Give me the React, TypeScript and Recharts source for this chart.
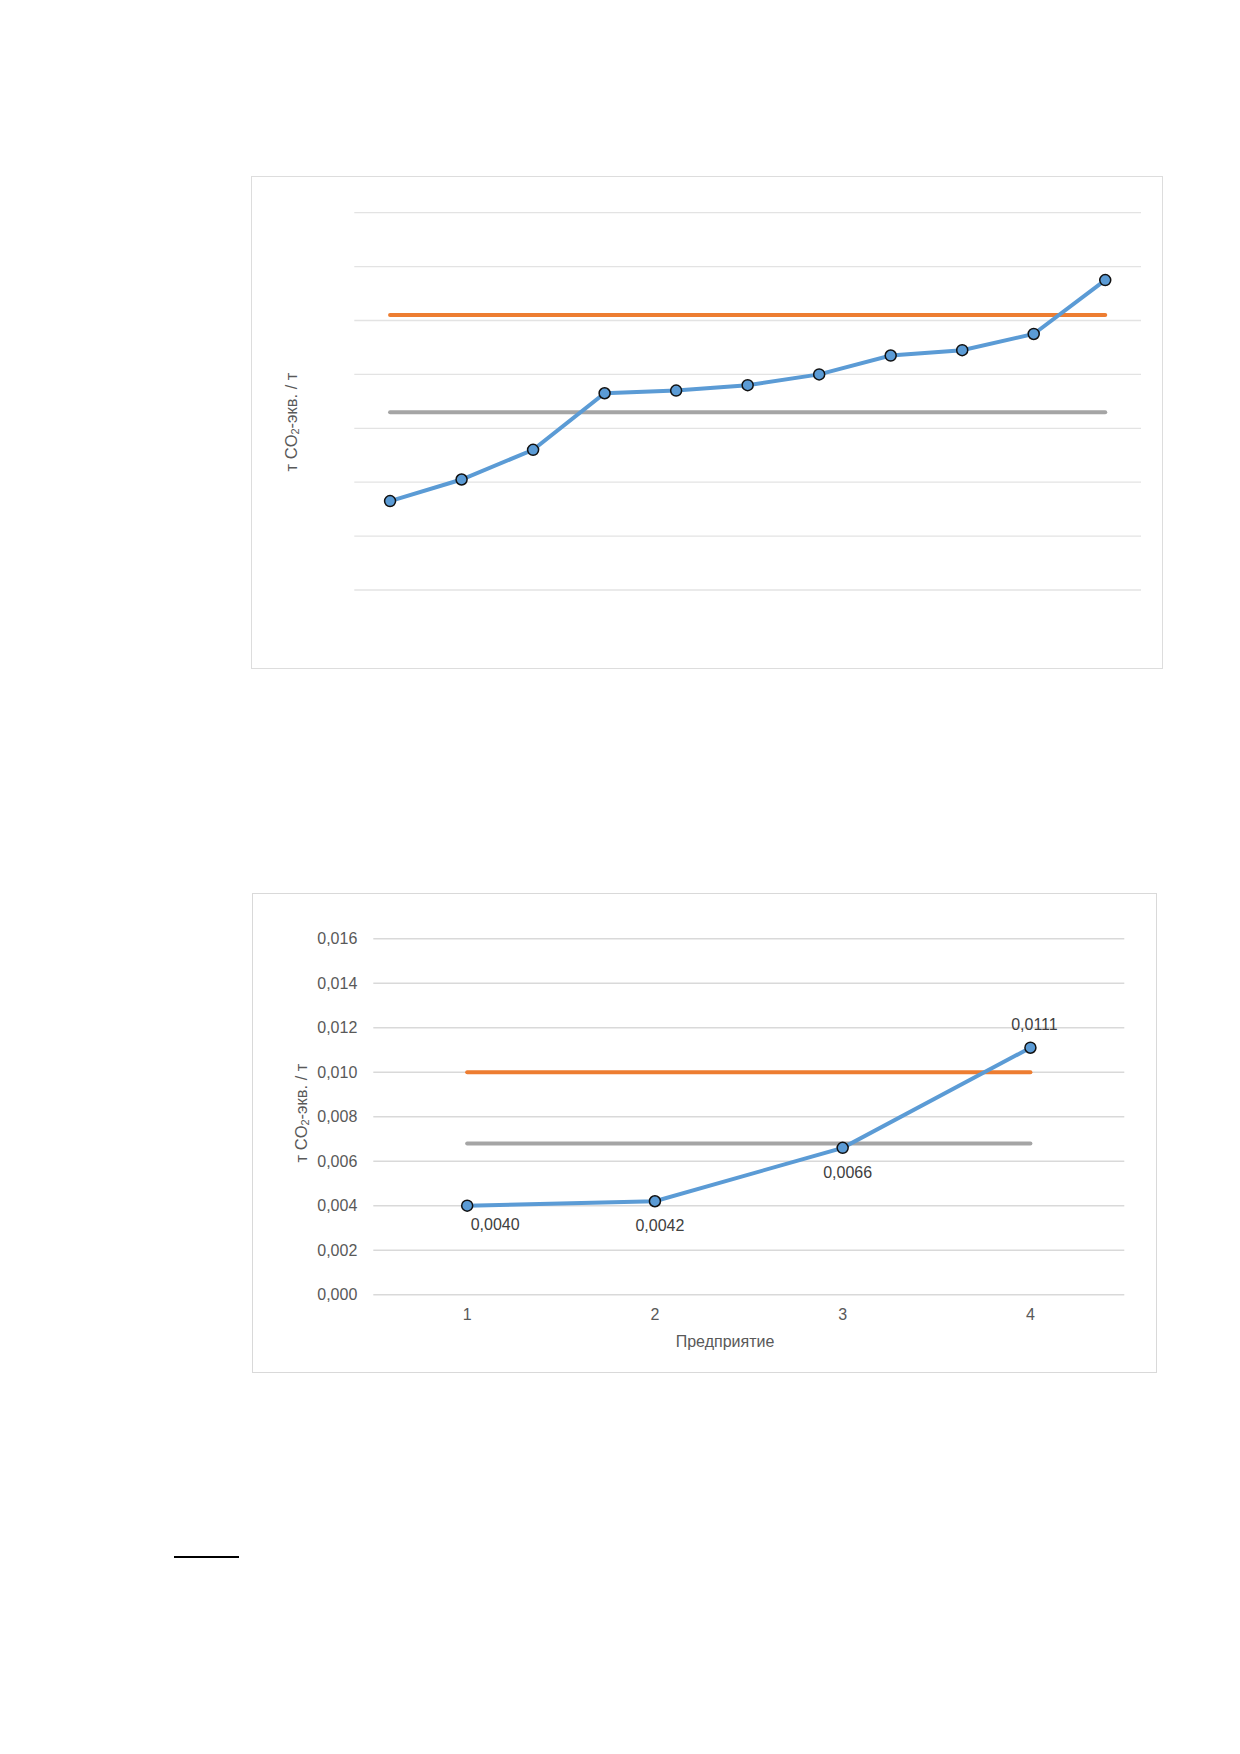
import React from "react";
import { LineChart, Line, XAxis, YAxis, CartesianGrid, LabelList, Label } from "recharts";

// top chart: 11 enterprises, no tick labels in the source
const topEnterprises = [1, 2, 3, 4, 5, 6, 7, 8, 9, 10, 11];
const topIntensity = [0.0033, 0.0041, 0.0052, 0.0073, 0.0074, 0.0076, 0.008, 0.0087, 0.0089, 0.0095, 0.0115];
const topBenchmark = [0.0102, 0.0102, 0.0102, 0.0102, 0.0102, 0.0102, 0.0102, 0.0102, 0.0102, 0.0102, 0.0102];
const topAverage = [0.0066, 0.0066, 0.0066, 0.0066, 0.0066, 0.0066, 0.0066, 0.0066, 0.0066, 0.0066, 0.0066];
const topYTicks = [0, 0.002, 0.004, 0.006, 0.008, 0.01, 0.012, 0.014];

// bottom chart: 4 enterprises
const bottomEnterprises = [1, 2, 3, 4];
const bottomIntensity = [0.004, 0.0042, 0.0066, 0.0111];
const bottomBenchmark = [0.01, 0.01, 0.01, 0.01];
const bottomAverage = [0.0068, 0.0068, 0.0068, 0.0068];
const bottomYTicks = [0, 0.002, 0.004, 0.006, 0.008, 0.01, 0.012, 0.014, 0.016];

const yTitle = "т CO";
const yTitleSub = "2";
const yTitleTail = "-экв. / т";
const xTitle = "Предприятие";

const BLUE = "#5B9BD5";
const ORANGE = "#ED7D31";
const GREY = "#A5A5A5";
const FONT = "'Liberation Sans', Arial, sans-serif";

// manual data label nudges (dx, dy) as in the source document
const bottomLabelOffsets = [
  [28, 19],
  [5, 24],
  [5, 25],
  [4, -23],
];

const comma = (v: number, d: number) => v.toFixed(d).replace(".", ",");

function YTitle({ x, y }: { x: number; y: number }) {
  return (
    <text
      x={x}
      y={y}
      transform={`rotate(-90 ${x} ${y})`}
      textAnchor="middle"
      dominantBaseline="central"
      fill="#595959"
      fontSize={16.5}
      fontFamily={FONT}
    >
      {yTitle}
      <tspan fontSize={11} dy={4}>{yTitleSub}</tspan>
      <tspan dy={-4}>{yTitleTail}</tspan>
    </text>
  );
}

const dotStyle = { r: 5.5, fill: BLUE, stroke: "#111", strokeWidth: 1.5 };

function TopChart() {
  const data = topEnterprises.map((n, i) => ({
    n,
    value: topIntensity[i],
    bench: topBenchmark[i],
    avg: topAverage[i],
  }));
  return (
    <div style={{ position: "absolute", left: 251, top: 176, width: 910, height: 491, border: "1.3px solid #DDDDDD", background: "#fff" }}>
      <LineChart width={910} height={491} data={data} margin={{ top: 35.7, right: 21, bottom: 48, left: 42.3 }}>
        <CartesianGrid vertical={false} stroke="#E3E3E3" strokeWidth={1.3} />
        <XAxis
          dataKey="n"
          type="number"
          domain={[0.5, 11.5]}
          ticks={topEnterprises}
          tickFormatter={() => ""}
          axisLine={false}
          tickLine={false}
          height={30}
        />
        <YAxis
          type="number"
          domain={[0, 0.014]}
          ticks={topYTicks}
          tickFormatter={() => ""}
          axisLine={false}
          tickLine={false}
          width={60}
        >
          <Label content={() => <YTitle x={39} y={245} />} />
        </YAxis>
        <Line dataKey="bench" stroke={ORANGE} strokeWidth={4} strokeLinecap="round" dot={false} isAnimationActive={false} />
        <Line dataKey="avg" stroke={GREY} strokeWidth={4} strokeLinecap="round" dot={false} isAnimationActive={false} />
        <Line dataKey="value" stroke={BLUE} strokeWidth={4} dot={dotStyle} isAnimationActive={false} />
      </LineChart>
    </div>
  );
}

function BottomChart() {
  const data = bottomEnterprises.map((n, i) => ({
    n,
    value: bottomIntensity[i],
    bench: bottomBenchmark[i],
    avg: bottomAverage[i],
  }));
  return (
    <div style={{ position: "absolute", left: 252, top: 893, width: 903, height: 478, border: "1.5px solid #D9D9D9", background: "#fff" }}>
      <LineChart width={903} height={478} data={data} margin={{ top: 44.7, right: 31.7, bottom: 47.3, left: 60.3 }}>
        <CartesianGrid vertical={false} stroke="#D9D9D9" strokeWidth={1.5} />
        <XAxis
          dataKey="n"
          type="number"
          domain={[0.5, 4.5]}
          ticks={bottomEnterprises}
          axisLine={false}
          tickLine={false}
          tickSize={0}
          tickMargin={14}
          height={30}
          tick={{ fill: "#595959", fontSize: 16, fontFamily: FONT }}
        >
          <Label
            content={() => (
              <text x={472} y={447} textAnchor="middle" dominantBaseline="central" fill="#595959" fontSize={16} fontFamily={FONT}>
                {xTitle}
              </text>
            )}
          />
        </XAxis>
        <YAxis
          type="number"
          domain={[0, 0.016]}
          ticks={bottomYTicks}
          axisLine={false}
          tickLine={false}
          tickSize={0}
          tickMargin={16}
          width={60}
          tickFormatter={(v: number) => comma(v, 3)}
          tick={{ fill: "#595959", fontSize: 16, fontFamily: FONT }}
        >
          <Label content={() => <YTitle x={48} y={219} />} />
        </YAxis>
        <Line dataKey="bench" stroke={ORANGE} strokeWidth={4} strokeLinecap="round" dot={false} isAnimationActive={false} />
        <Line dataKey="avg" stroke={GREY} strokeWidth={4} strokeLinecap="round" dot={false} isAnimationActive={false} />
        <Line dataKey="value" stroke={BLUE} strokeWidth={4} dot={dotStyle} isAnimationActive={false}>
          <LabelList
            dataKey="value"
            content={(p: any) => {
              const [dx, dy] = bottomLabelOffsets[p.index] || [0, 0];
              return (
                <text
                  x={Number(p.x) + dx}
                  y={Number(p.y) + dy}
                  textAnchor="middle"
                  dominantBaseline="central"
                  fill="#404040"
                  fontSize={16}
                  fontFamily={FONT}
                >
                  {comma(Number(p.value), 4)}
                </text>
              );
            }}
          />
        </Line>
      </LineChart>
    </div>
  );
}

export default function App() {
  return (
    <div style={{ position: "absolute", left: 0, top: 0, width: 1240, height: 1754, background: "#fff", fontFamily: FONT }}>
      <TopChart />
      <BottomChart />
      {/* footnote separator */}
      <div style={{ position: "absolute", left: 174, top: 1556, width: 65, height: 2, background: "#000" }} />
    </div>
  );
}
